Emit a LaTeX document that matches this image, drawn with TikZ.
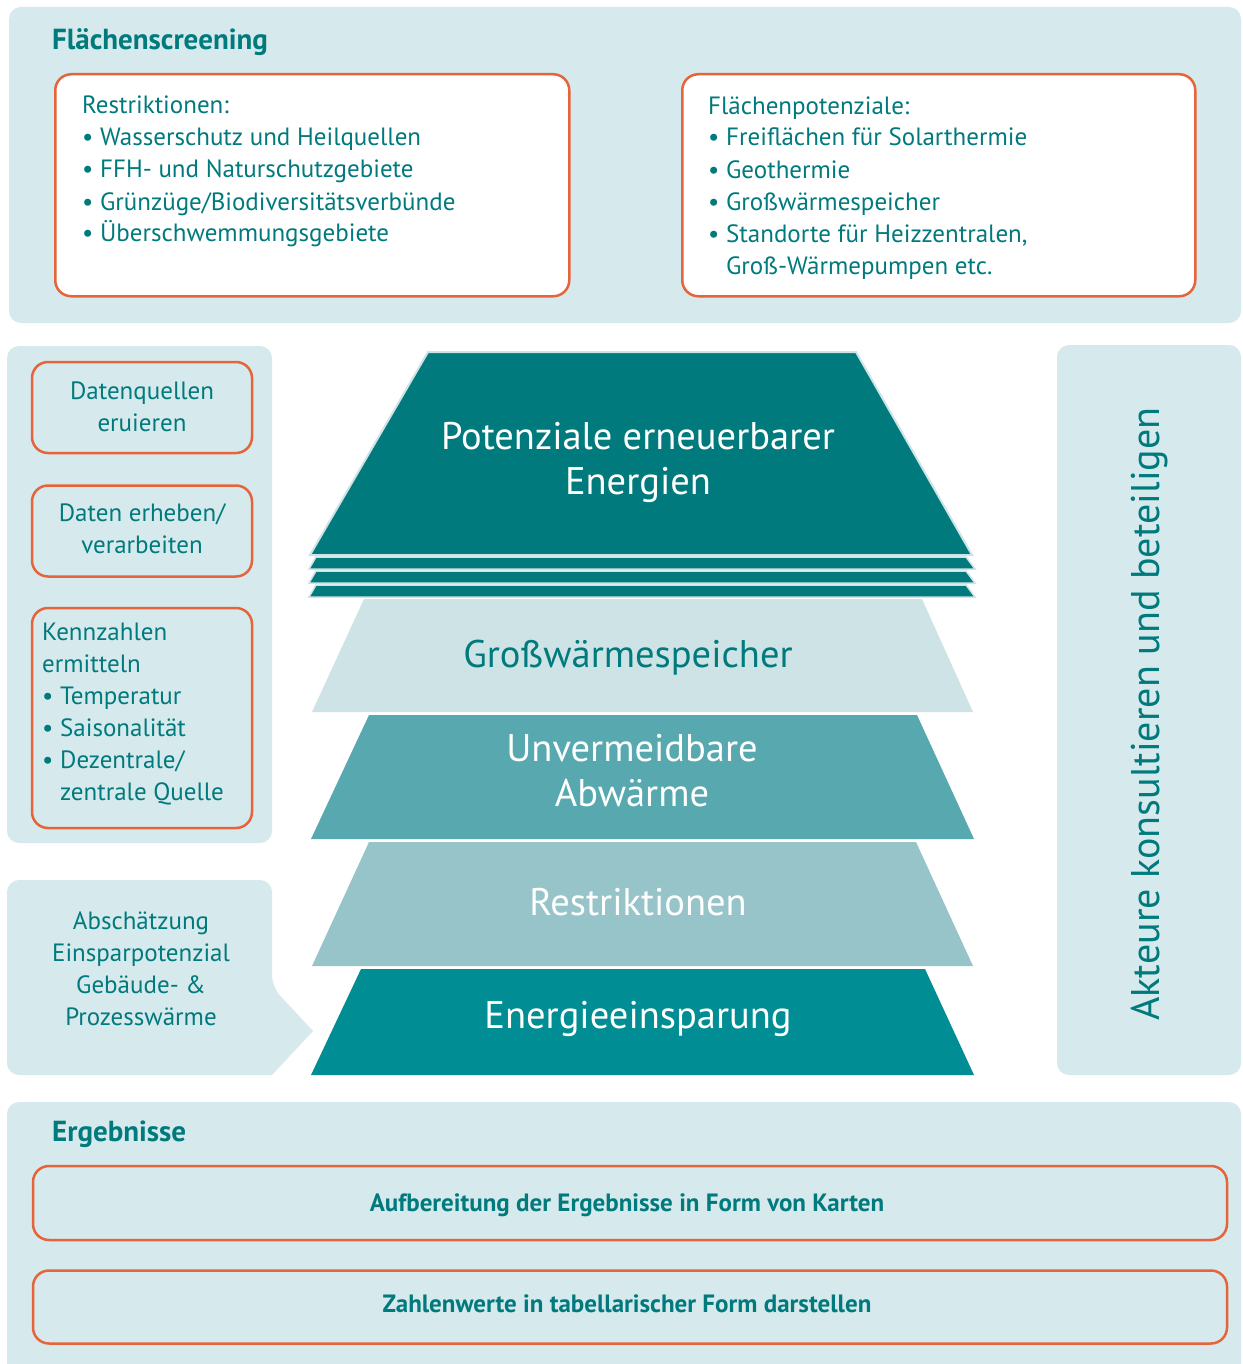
\documentclass[tikz,border=0pt]{standalone}
\usepackage{fontspec}
\setmainfont{PT Sans}
\usetikzlibrary{positioning}
\definecolor{panel}{HTML}{D6E9EC}
\definecolor{rim}{HTML}{E5643A}
\definecolor{tealtext}{HTML}{007A7C}
\definecolor{lyrtop}{HTML}{007A7C}
\definecolor{lyrstore}{HTML}{CDE3E6}
\definecolor{lyrheat}{HTML}{58A9AF}
\definecolor{lyrrestr}{HTML}{96C4C8}
\definecolor{lyrsave}{HTML}{008E94}

\begin{document}
\begin{tikzpicture}[x=1pt,y=-1pt,
    panelbox/.style={fill=panel,rounded corners=12pt},
    rimbox/.style={draw=rim,line width=2.5pt,rounded corners=16pt,inner sep=0pt},
    txt/.style={text=tealtext,inner sep=0pt,font=\fontsize{25}{32}\selectfont},
    big/.style={inner sep=0pt,align=center,font=\fontsize{38.5}{45}\selectfont},
    head/.style={text=tealtext,inner sep=0pt,anchor=base west,font=\bfseries\fontsize{29}{32}\selectfont}]
      \useasboundingbox (0,0) rectangle (1242,1364);
      \fill[white] (0,0) rectangle (1242,1364);

      % Flaechenscreening (base = letzte Zeile)
      \fill[panelbox] (9,7) rectangle (1241,323);
      \node(fs) [head] at (52,50) {Flächenscreening};
      \node(rs) [rimbox,fill=white,anchor=north west,minimum width=514pt,minimum height=222pt] at (54,73) {};
      \node(fp) [rimbox,fill=white,anchor=north west,minimum width=513pt,minimum height=222pt] at (681,73) {};
      \node(rst) [txt,anchor=base west,align=left] at (82,242)
        {Restriktionen:\\• Wasserschutz und Heilquellen\\• FFH- und Naturschutzgebiete\\
         • Grünzüge/Biodiversitätsverbünde\\• Überschwemmungsgebiete};
      \node(fpt) [txt,anchor=base west,align=left] at (708,274)
        {Flächenpotenziale:\\• Freiflächen für Solarthermie\\• Geothermie\\• Großwärmespeicher\\
         • Standorte für Heizzentralen,\\\hphantom{• }Groß-Wärmepumpen etc.};

      % linke Spalte
      \fill[panelbox] (7,346) rectangle (272,843);
      \node(dq) [rimbox,minimum width=220pt,minimum height=91pt] at (142,407.5) {};
      \node(de) [rimbox,minimum width=220pt,minimum height=91pt,below=30pt of dq] {};
      \node(kz) [rimbox,minimum width=220pt,minimum height=220pt,below=29pt of de] {};
      \node(dqt) [txt,anchor=base,align=center] at (142,431) {Datenquellen\\eruieren};
      \node(det) [txt,anchor=base,align=center] at (142,553) {Daten erheben/\\verarbeiten};
      \node(kzt) [txt,anchor=base west,align=left] at (42,800)
        {Kennzahlen\\ermitteln\\• Temperatur\\• Saisonalität\\• Dezentrale/\\\hphantom{• }zentrale Quelle};

      \fill[panel] (7,1000) [rounded corners=12pt] -- (7,880) -- (272,880) -- (272,987)
        [sharp corners] -- (313,1031) -- (272,1075) [rounded corners=12pt] -- (7,1075) -- cycle;
      \node(ab) [txt,anchor=base,align=center] at (141,1025)
        {Abschätzung\\Einsparpotenzial\\Gebäude- \&\\Prozesswärme};

      % Pyramide
      \filldraw[fill=lyrtop,draw=lyrstore,line width=2pt] (428,352) -- (856,352) -- (972,555) -- (310,555) -- cycle;
      \foreach \i in {0,1,2}
        \filldraw[fill=lyrtop,draw=lyrstore,line width=1.5pt]
          (316,557+14*\i) -- (966,557+14*\i) -- (975,569+14*\i) -- (309,569+14*\i) -- cycle;
      \fill[lyrstore] (364,599) -- (922,599) -- (973,712) -- (312,712) -- cycle;
      \fill[lyrheat] (369,715) -- (917,715) -- (974,839) -- (311,839) -- cycle;
      \fill[lyrrestr] (369,842) -- (916,842) -- (973,966) -- (312,966) -- cycle;
      \fill[lyrsave] (361,969) -- (925,969) -- (974,1075) -- (311,1075) -- cycle;
      \node(pe) [big,text=white,anchor=base] at (638,494) {Potenziale erneuerbarer\\Energien};
      \node(gw) [big,text=tealtext,anchor=base] at (628,667) {Großwärmespeicher};
      \node(ua) [big,text=white,anchor=base] at (632,806) {Unvermeidbare\\Abwärme};
      \node(re) [big,text=white,anchor=base] at (638,915) {Restriktionen};
      \node(es) [big,text=white,anchor=base] at (638,1028) {Energieeinsparung};

      % rechte Spalte
      \fill[panelbox] (1057,345) rectangle (1241,1075);
      \node(ak) [big,text=tealtext,rotate=90,font=\fontsize{40}{45}\selectfont] at (1150,714)
        {Akteure konsultieren und beteiligen};

      % Ergebnisse
      \fill[panelbox] (7,1102) rectangle (1241,1380);
      \node(eg) [head] at (52,1141) {Ergebnisse};
      \node(ka) [rimbox,minimum width=1194pt,minimum height=74pt] at (630,1203) {};
      \node(tb) [rimbox,minimum width=1194pt,minimum height=73pt,below=28pt of ka] {};
      \node(kat) [txt,anchor=base,font=\bfseries\fontsize{25}{28}\selectfont] at (627,1211)
        {Aufbereitung der Ergebnisse in Form von Karten};
      \node(tbt) [txt,anchor=base,font=\bfseries\fontsize{25}{28}\selectfont] at (627,1312)
        {Zahlenwerte in tabellarischer Form darstellen};
    \end{tikzpicture}
\end{document}
